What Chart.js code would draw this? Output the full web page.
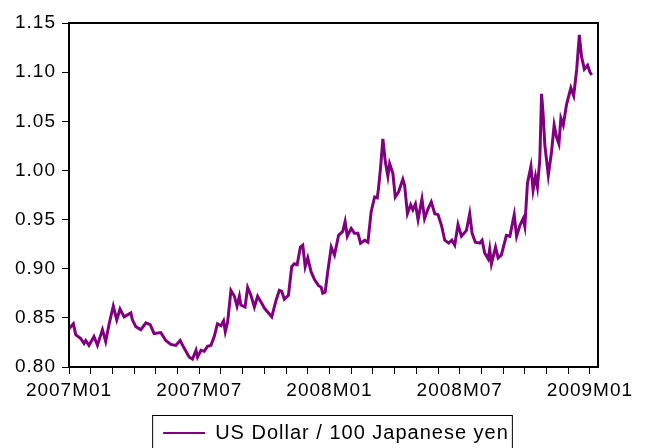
<!DOCTYPE html>
<html>
<head>
<meta charset="utf-8">
<script src="https://cdn.jsdelivr.net/npm/chart.js@4.4.1/dist/chart.umd.min.js"></script>
<style>
  html, body { margin: 0; padding: 0; background: #fff; }
  #wrap { width: 646px; height: 448px; }
</style>
</head>
<body>
<div id="wrap"><canvas id="yenChart" width="646" height="448"></canvas></div>
<script>
// months since 2007M01 (fractional)
const months = [
  0.00, 0.20, 0.31, 0.54, 0.69, 0.77, 0.92, 1.15, 1.31, 1.54, 1.69, 1.85, 2.04, 2.20, 2.35, 2.54,
  2.85, 2.92, 3.08, 3.31, 3.54, 3.74, 3.92, 4.23, 4.46, 4.69, 4.92, 5.12, 5.31, 5.54, 5.69, 5.85,
  5.92, 6.08, 6.23, 6.38, 6.54, 6.69, 6.84, 7.00, 7.12, 7.20, 7.31, 7.46, 7.62, 7.74, 7.85, 7.92,
  8.11, 8.23, 8.38, 8.54, 8.69, 8.85, 9.00, 9.15, 9.34, 9.54, 9.69, 9.80, 9.92, 10.11, 10.26, 10.38,
  10.51, 10.66, 10.77, 10.88, 11.00, 11.15, 11.31, 11.49, 11.62, 11.69, 11.80, 11.92, 12.08, 12.23,
  12.42, 12.61, 12.72, 12.82, 13.00, 13.15, 13.31, 13.43, 13.62, 13.77, 13.92, 14.08, 14.20, 14.26,
  14.35, 14.46, 14.57, 14.69, 14.77, 14.92, 15.03, 15.18, 15.38, 15.46, 15.59, 15.74, 15.84, 15.96,
  16.08, 16.26, 16.38, 16.54, 16.69, 16.85, 17.00, 17.16, 17.31, 17.49, 17.64, 17.77, 17.92, 18.08,
  18.31, 18.46, 18.57, 18.72, 18.92, 19.03, 19.15, 19.31, 19.38, 19.46, 19.65, 19.77, 19.92, 20.15,
  20.31, 20.51, 20.62, 20.77, 20.92, 21.00, 21.12, 21.28, 21.38, 21.49, 21.58, 21.69, 21.77, 21.84,
  21.92, 22.08, 22.23, 22.35, 22.46, 22.57, 22.66, 22.77, 22.92, 23.12, 23.25, 23.39, 23.51, 23.61,
  23.74, 23.89, 24.00, 24.08
];

// US Dollar / 100 Japanese yen
const usdPer100Yen = [
  0.839, 0.844, 0.833, 0.829, 0.824, 0.827, 0.822, 0.831, 0.822, 0.838, 0.826, 0.844, 0.862, 0.848, 0.859, 0.851,
  0.855, 0.848, 0.841, 0.838, 0.845, 0.843, 0.834, 0.835, 0.827, 0.823, 0.822, 0.827, 0.819, 0.810, 0.808, 0.817,
  0.810, 0.817, 0.816, 0.821, 0.822, 0.831, 0.844, 0.842, 0.847, 0.836, 0.846, 0.878, 0.872, 0.862, 0.872, 0.863,
  0.861, 0.881, 0.873, 0.861, 0.872, 0.866, 0.860, 0.856, 0.851, 0.868, 0.878, 0.877, 0.869, 0.873, 0.902, 0.905,
  0.904, 0.922, 0.924, 0.902, 0.911, 0.897, 0.889, 0.883, 0.881, 0.875, 0.876, 0.897, 0.922, 0.914,
  0.934, 0.938, 0.948, 0.933, 0.941, 0.936, 0.936, 0.926, 0.929, 0.927, 0.958, 0.973, 0.972, 0.982,
  1.002, 1.032, 1.009, 0.994, 1.007, 0.997, 0.973, 0.978, 0.991, 0.985, 0.956, 0.965, 0.960, 0.966,
  0.950, 0.971, 0.951, 0.961, 0.968, 0.956, 0.955, 0.944, 0.929, 0.926, 0.929, 0.924, 0.945, 0.933,
  0.939, 0.956, 0.936, 0.927, 0.926, 0.929, 0.916, 0.910, 0.920, 0.905, 0.922, 0.911, 0.914, 0.934,
  0.933, 0.955, 0.933, 0.944, 0.951, 0.943, 0.987, 1.004, 0.980, 0.994, 0.983, 1.011, 1.078, 1.058,
  1.026, 0.995, 1.019, 1.046, 1.034, 1.027, 1.053, 1.046, 1.067, 1.084, 1.076, 1.103, 1.138, 1.116,
  1.103, 1.107, 1.100, 1.097
];

const tickMonths = [0, 6, 12, 18, 24];
const tickLabels = ['2007M01', '2007M07', '2008M01', '2008M07', '2009M01'];

Chart.defaults.font.family = '"Liberation Sans", Arial, sans-serif';
Chart.defaults.color = '#000';

// the original text is drawn a little wide
const wideText = {
  id: 'wideText',
  beforeLayout(chart) { chart.ctx.letterSpacing = '1px'; },
  beforeDraw(chart) { chart.ctx.letterSpacing = '1px'; }
};

// box round the plot area, like the original graph
const plotFrame = {
  id: 'plotFrame',
  afterDatasetsDraw(chart) {
    const { ctx, chartArea: a } = chart;
    ctx.save();
    ctx.strokeStyle = '#000';
    ctx.lineWidth = 2;
    ctx.strokeRect(a.left, a.top, a.right - a.left, a.bottom - a.top);
    ctx.restore();
  }
};

// legend sits right of centre and lower, and has a frame
const legendFrame = {
  id: 'legendFrame',
  afterLayout(chart) {
    const lg = chart.legend;
    lg.left += 37;
    lg.right += 37;
    lg.top += 5;
    lg.bottom += 5;
  },
  afterDraw(chart) {
    const hb = chart.legend.legendHitBoxes[0];
    if (!hb) return;
    const ctx = chart.ctx;
    ctx.save();
    ctx.strokeStyle = '#000';
    ctx.lineWidth = 1;
    ctx.strokeRect(hb.left - 10.5, hb.top - 7.5, hb.width + 14, 60);
    ctx.restore();
  }
};

new Chart(document.getElementById('yenChart'), {
  type: 'line',
  data: {
    datasets: [{
      label: 'US Dollar / 100 Japanese yen',
      data: months.map((m, i) => ({ x: m, y: usdPer100Yen[i] })),
      borderColor: '#800080',
      backgroundColor: '#800080',
      borderWidth: 3,
      pointRadius: 0,
      tension: 0,
      fill: false
    }]
  },
  options: {
    responsive: false,
    animation: false,
    layout: { padding: { top: 23, right: 48, left: 0, bottom: 0 } },
    plugins: {
      tooltip: { enabled: false },
      legend: {
        position: 'bottom',
        labels: {
          boxWidth: 42,
          boxHeight: 2,
          padding: 16,
          font: { size: 20 },
          generateLabels(chart) {
            return Chart.defaults.plugins.legend.labels.generateLabels(chart)
              .map(l => Object.assign(l, { lineWidth: 0, fillStyle: '#800080' }));
          }
        }
      }
    },
    scales: {
      x: {
        type: 'linear',
        min: 0,
        max: 24.37,
        afterBuildTicks(scale) {
          const t = [];
          for (let m = 0; m <= 24; m++) t.push({ value: m });
          scale.ticks = t;
        },
        afterFit(scale) { scale.height = 35; },
        grid: { drawOnChartArea: false, drawTicks: true, tickLength: 7, color: '#000', lineWidth: 1 },
        border: { display: true, color: '#000', width: 2 },
        ticks: {
          autoSkip: false,
          maxRotation: 0,
          padding: 5,
          font: { size: 19 },
          callback(v) {
            const k = tickMonths.indexOf(v);
            return k >= 0 ? tickLabels[k] : '';
          }
        }
      },
      y: {
        min: 0.80,
        max: 1.15,
        afterFit(scale) { scale.width = 69; },
        grid: { drawOnChartArea: false, drawTicks: true, tickLength: 7, color: '#000', lineWidth: 1 },
        border: { display: true, color: '#000', width: 2 },
        ticks: {
          stepSize: 0.05,
          padding: 6,
          font: { size: 19 },
          callback(v) { return v.toFixed(2); }
        }
      }
    }
  },
  plugins: [wideText, plotFrame, legendFrame]
});
</script>
</body>
</html>
